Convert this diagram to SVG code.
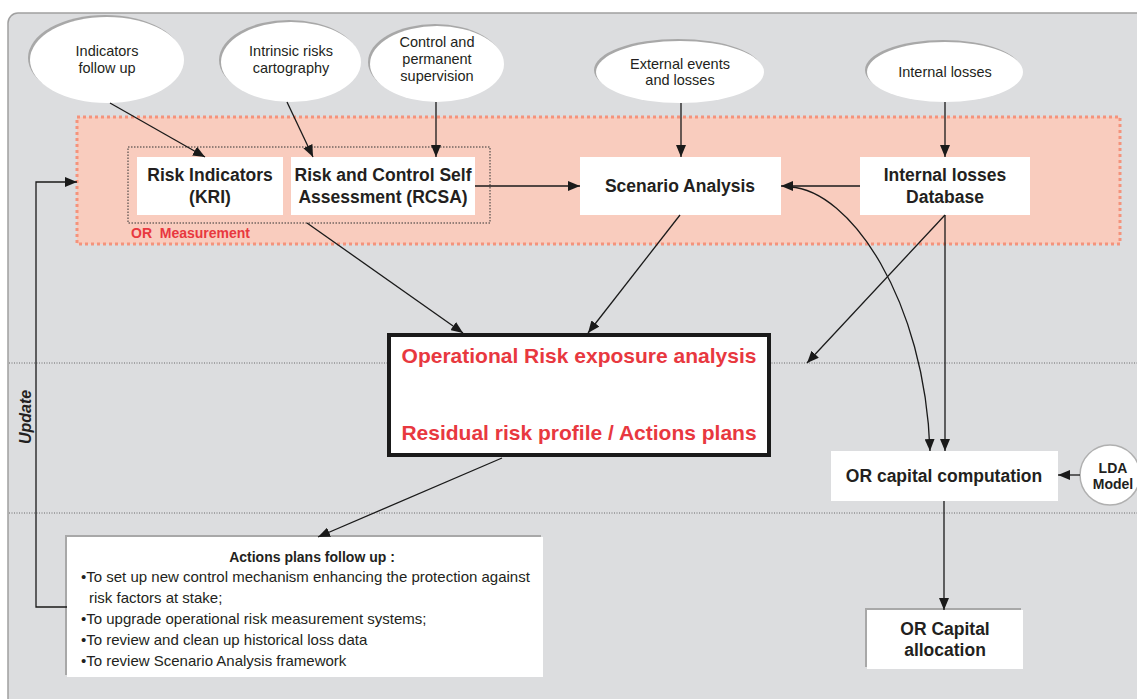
<svg xmlns="http://www.w3.org/2000/svg" width="1137" height="699" viewBox="0 0 1137 699">
<defs>
<marker id="ah" viewBox="0 0 12 10" refX="12" refY="5" markerWidth="12" markerHeight="10" orient="auto" markerUnits="userSpaceOnUse"><path d="M0,0 L12,5 L0,10 z" fill="#1a1a1a"/></marker>
<style>
.t{font-family:"Liberation Sans",Arial,sans-serif;fill:#231f20}
.ell{font-size:14.5px;text-anchor:middle}
.box{font-size:17.5px;font-weight:bold;text-anchor:middle}
.red{font-family:"Liberation Sans",Arial,sans-serif;fill:#e8383f;font-weight:bold;white-space:pre}
.wb{fill:#fff;stroke:none}
.sh{fill:#a8a8a8}
.c{fill:none;stroke:#1a1a1a;stroke-width:1.3;marker-end:url(#ah)}
.dl{stroke:#6a6a6a;stroke-width:1;stroke-dasharray:1 1.5}
</style>
</defs>
<rect x="0" y="0" width="1137" height="699" fill="#ffffff"/>
<rect x="8" y="13" width="1150" height="700" rx="10" fill="#dcdddf" stroke="#a0a0a0" stroke-width="1.5"/>
<line class="dl" x1="9" y1="363" x2="1137" y2="363"/>
<line class="dl" x1="9" y1="513" x2="1137" y2="513"/>

<g id="or-measurement">
<rect x="77" y="117" width="1043" height="127" fill="#f9ccbe" stroke="#f4937c" stroke-width="3" stroke-dasharray="3 3"/>
<rect x="128" y="147" width="362" height="76" fill="none" stroke="#333" stroke-width="1" stroke-dasharray="1.5 1.5"/>
<text class="red" x="131" y="238" font-size="14" xml:space="preserve">OR  Measurement</text>
</g>

<g id="indicators-follow-up">
<ellipse cx="105" cy="58" rx="77" ry="43" class="sh"/>
<ellipse cx="107" cy="60" rx="77" ry="43" fill="#fff"/>
<text class="t ell" x="107" y="56">Indicators</text>
<text class="t ell" x="107" y="73">follow up</text>
</g>
<g id="intrinsic-risks">
<ellipse cx="289" cy="60" rx="70" ry="40" class="sh"/>
<ellipse cx="291" cy="62" rx="70" ry="40" fill="#fff"/>
<text class="t ell" x="291" y="56">Intrinsic risks</text>
<text class="t ell" x="291" y="73">cartography</text>
</g>
<g id="control-supervision">
<ellipse cx="435" cy="62" rx="67" ry="38" class="sh"/>
<ellipse cx="437" cy="64" rx="67" ry="38" fill="#fff"/>
<text class="t ell" x="437" y="47">Control and</text>
<text class="t ell" x="437" y="64">permanent</text>
<text class="t ell" x="437" y="81">supervision</text>
</g>
<g id="external-events">
<ellipse cx="678" cy="70" rx="84" ry="31" class="sh"/>
<ellipse cx="680" cy="72" rx="84" ry="31" fill="#fff"/>
<text class="t ell" x="680" y="69">External events</text>
<text class="t ell" x="680" y="85">and losses</text>
</g>
<g id="internal-losses">
<ellipse cx="943" cy="70" rx="78" ry="30" class="sh"/>
<ellipse cx="945" cy="72" rx="78" ry="30" fill="#fff"/>
<text class="t ell" x="945" y="77">Internal losses</text>
</g>

<g id="risk-indicators">
<rect class="wb" x="137" y="157" width="146" height="58"/>
<text class="t box" x="210" y="181">Risk Indicators</text>
<text class="t box" x="210" y="203">(KRI)</text>
</g>
<g id="rcsa">
<rect class="wb" x="291" y="157" width="184" height="58"/>
<text class="t box" x="383" y="181">Risk and Control Self</text>
<text class="t box" x="383" y="203">Assessment (RCSA)</text>
</g>
<g id="scenario-analysis">
<rect class="wb" x="580" y="157" width="201" height="58"/>
<text class="t box" x="680" y="192">Scenario Analysis</text>
</g>
<g id="internal-losses-db">
<rect class="wb" x="860" y="157" width="170" height="58"/>
<text class="t box" x="945" y="181">Internal losses</text>
<text class="t box" x="945" y="203">Database</text>
</g>

<g id="exposure-analysis">
<rect x="389" y="335" width="380" height="120" fill="#fff" stroke="#1a1a1a" stroke-width="4"/>
<text class="red" x="579" y="363" font-size="21" text-anchor="middle">Operational Risk exposure analysis</text>
<text class="red" x="579" y="440" font-size="21" text-anchor="middle">Residual risk profile / Actions plans</text>
</g>

<g id="or-capital-computation">
<rect class="wb" x="831" y="451" width="227" height="50"/>
<text class="t box" x="944" y="482">OR capital computation</text>
</g>
<g id="lda-model">
<circle cx="1110" cy="475" r="30" fill="#fff" stroke="#b0b0b0" stroke-width="1.5"/>
<text class="t" x="1113" y="473" font-size="14" font-weight="bold" text-anchor="middle">LDA</text>
<text class="t" x="1113" y="489" font-size="14" font-weight="bold" text-anchor="middle">Model</text>
</g>
<g id="or-capital-allocation">
<rect class="sh" x="865" y="608" width="156" height="59"/>
<rect class="wb" x="867" y="610" width="156" height="59"/>
<text class="t box" x="945" y="635">OR Capital</text>
<text class="t box" x="945" y="656">allocation</text>
</g>

<g id="actions-follow-up">
<rect class="sh" x="65" y="535" width="476" height="140"/>
<rect class="wb" x="67" y="537" width="476" height="140"/>
<text class="t" x="312" y="562" font-size="14" font-weight="bold" text-anchor="middle">Actions plans follow up :</text>
<g class="t" font-size="15">
<text x="81" y="582">•To set up new control mechanism enhancing the protection against</text>
<text x="89" y="603">risk factors at stake;</text>
<text x="81" y="624">•To upgrade operational risk measurement systems;</text>
<text x="81" y="645">•To review and clean up historical loss data</text>
<text x="81" y="666">•To review Scenario Analysis framework</text>
</g>
</g>

<g id="update-label">
<text class="t" transform="translate(31,417) rotate(-90)" font-size="16" font-weight="bold" font-style="italic" text-anchor="middle">Update</text>
</g>

<g id="connectors">
<line class="c" x1="110" y1="103" x2="205" y2="157"/>
<line class="c" x1="287" y1="102" x2="313" y2="157"/>
<line class="c" x1="436" y1="102" x2="436" y2="157"/>
<line class="c" x1="681" y1="103" x2="681" y2="157"/>
<line class="c" x1="945" y1="102" x2="945" y2="157"/>
<line class="c" x1="475" y1="186" x2="580" y2="186"/>
<line class="c" x1="860" y1="186" x2="781" y2="186"/>
<path class="c" d="M790,187 C850,190 925,300 930,451"/>
<line class="c" x1="945" y1="215" x2="945" y2="451"/>
<line class="c" x1="945" y1="215" x2="807" y2="363"/>
<line class="c" x1="680" y1="215" x2="588" y2="333"/>
<line class="c" x1="307" y1="223" x2="463" y2="333"/>
<line class="c" x1="502" y1="458" x2="318" y2="537"/>
<line class="c" x1="1080" y1="475" x2="1058" y2="475"/>
<line class="c" x1="944" y1="501" x2="944" y2="610"/>
<polyline class="c" points="67,607 36,607 36,182 77,182"/>
</g>
</svg>
